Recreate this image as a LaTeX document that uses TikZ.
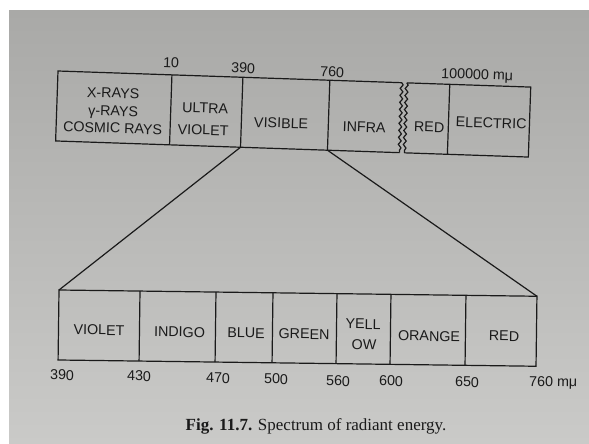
\documentclass[tikz,border=0pt]{standalone}
\usepackage{fontspec}
\newfontfamily\labfont{Liberation Sans}
\newfontfamily\capfont{Liberation Serif}
\usetikzlibrary{decorations.pathmorphing}
\definecolor{ink}{HTML}{1A1A1A}
\definecolor{papertop}{HTML}{A9A9A7}
\definecolor{paperbot}{HTML}{CACAC8}
\begin{document}
\begin{tikzpicture}[x=1pt,y=-1pt,
  frame/.style={draw=ink, line width=1.2pt, line join=miter},
  wavy/.style={decorate, decoration={snake, segment length=7pt, amplitude=1.4pt}},
  lbl/.style={font=\labfont\fontsize{14.3}{16}\selectfont, text=ink, inner sep=0pt, anchor=base},
  toplbl/.style={lbl, rotate=-1.95},
  botlbl/.style={lbl, rotate=-0.75},
  capstyle/.style={font=\capfont\fontsize{17}{19}\selectfont, text=ink, inner sep=0pt, anchor=base}]
\useasboundingbox (0,0) rectangle (589,444);
\fill[white] (0,0) rectangle (589,444);
\shade[top color=papertop, bottom color=paperbot] (9,11) rectangle (589,444);

% upper bar
\begin{scope}[rotate around={-1.95:(58,71)}]
  \draw[frame] (402,71) -- (58,71) -- (58,141) -- (402,141);
  \draw[frame] (407,71) -- (531,71) -- (531,141) -- (407,141);
  \draw[frame, wavy] (402,71) -- (402,141);
  \draw[frame, wavy] (407,71) -- (407,141);
  \draw[frame] (172,71) -- (172,141);
  \draw[frame] (243,71) -- (243,141);
  \draw[frame] (330,71) -- (330,141);
  \draw[frame] (450,71) -- (450,141);
  \coordinate (t390) at (243,141);
  \coordinate (t760) at (330,141);
\end{scope}

\node[toplbl] (xr1) at (113,98) {X-RAYS};
\node[toplbl] (xr2) at (113,116) {γ-RAYS};
\node[toplbl] (xr3) at (112.5,133) {COSMIC RAYS};
\node[toplbl] (uv1) at (205,113) {ULTRA};
\node[toplbl] (uv2) at (203,135) {VIOLET};
\node[toplbl] (vis) at (281,128) {VISIBLE};
\node[toplbl] (inf) at (364,132) {INFRA};
\node[toplbl] (red1) at (429,132) {RED};
\node[toplbl] (elec) at (491,128) {ELECTRIC};
\node[toplbl] (n10) at (171,68) {10};
\node[toplbl] (n390) at (243,73) {390};
\node[toplbl] (n760) at (332,77) {760};
\node[toplbl, anchor=base west] (n1e5) at (441,78) {100000 mμ};

% lower bar
\begin{scope}[rotate around={-0.75:(59,290)}]
  \draw[frame] (59,290) rectangle (537,360);
  \draw[frame] (140,290) -- (140,360);
  \draw[frame] (216,290) -- (216,360);
  \draw[frame] (273,290) -- (273,360);
  \draw[frame] (337,290) -- (337,360);
  \draw[frame] (391,290) -- (391,360);
  \draw[frame] (466,290) -- (466,360);
  \coordinate (bl) at (59,290);
  \coordinate (br) at (537,290);
\end{scope}

\draw[frame] (t390) -- (bl);
\draw[frame] (t760) -- (br);

\node[botlbl] (vio) at (99,335) {VIOLET};
\node[botlbl] (ind) at (179.5,337) {INDIGO};
\node[botlbl] (blu) at (246,338) {BLUE};
\node[botlbl] (gre) at (304,339) {GREEN};
\node[botlbl] (yel1) at (363,329) {YELL};
\node[botlbl] (yel2) at (364,350) {OW};
\node[botlbl] (ora) at (429,341) {ORANGE};
\node[botlbl] (red2) at (504,341) {RED};

\node[botlbl] (m390) at (62,380) {390};
\node[botlbl] (m430) at (139,381) {430};
\node[botlbl] (m470) at (218,383) {470};
\node[botlbl] (m500) at (276,384) {500};
\node[botlbl] (m560) at (338,386) {560};
\node[botlbl] (m600) at (391,386) {600};
\node[botlbl] (m650) at (467,387) {650};
\node[botlbl, anchor=base west] (m760) at (529,386) {760 mμ};

\node[capstyle] (cap) at (316,430) {\textbf{Fig. 11.7.} Spectrum of radiant energy.};
\end{tikzpicture}
\end{document}
